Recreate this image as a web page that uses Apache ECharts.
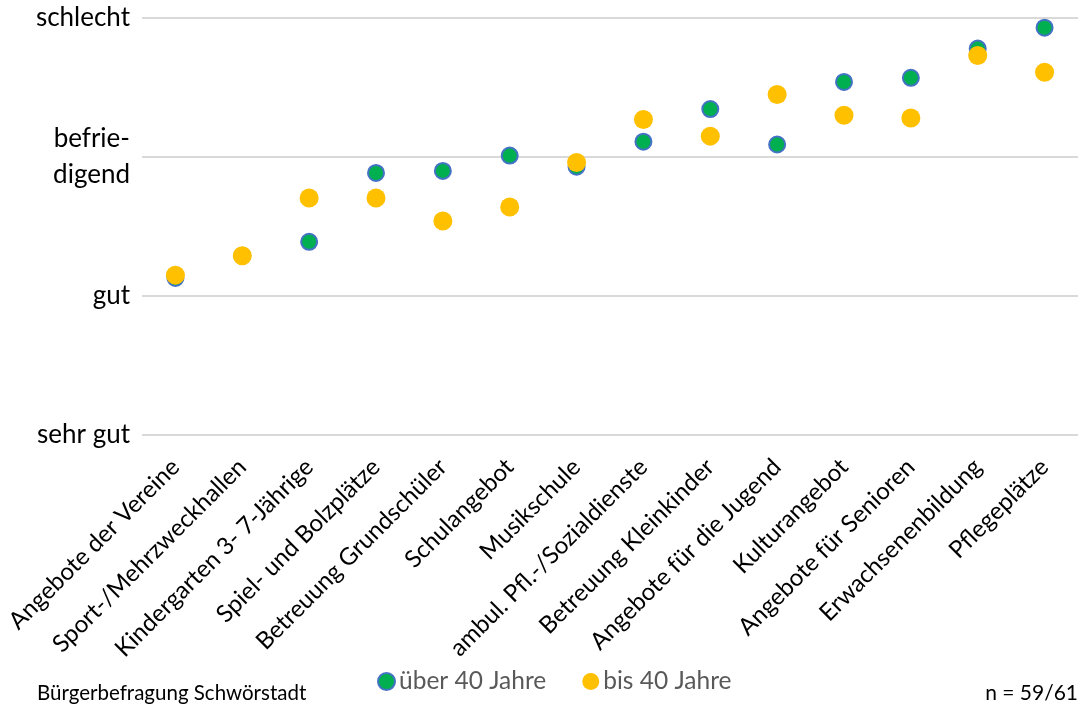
<!DOCTYPE html>
<html><head><meta charset="utf-8">
<script src="https://cdn.jsdelivr.net/npm/echarts@6/dist/echarts.min.js"></script>
<style>html,body{margin:0;padding:0;background:#fff}#c{width:1087px;height:706px}</style>
</head><body><div id="c"></div>
<script>
const categories = ["Angebote der Vereine","Sport-/Mehrzweckhallen","Kindergarten 3- 7-Jährige","Spiel- und Bolzplätze","Betreuung Grundschüler","Schulangebot","Musikschule","ambul. Pfl.-/Sozialdienste","Betreuung Kleinkinder","Angebote für die Jugend","Kulturangebot","Angebote für Senioren","Erwachsenenbildung","Pflegeplätze"];
const ueber40 = [2.13,2.29,2.39,2.885,2.90,3.01,2.93,3.11,3.345,3.09,3.54,3.57,3.78,3.93];
const bis40 = [2.15,2.29,2.705,2.705,2.54,2.64,2.96,3.27,3.15,3.45,3.30,3.28,3.73,3.61];
const yLabels = {1:"sehr gut",2:"gut",3:"befrie-\ndigend",4:"schlecht"};
const seriesNames = ["über 40 Jahre","bis 40 Jahre"];
const chart = echarts.init(document.getElementById('c'));
chart.setOption({
  animation:false,
  textStyle:{fontFamily:"Lato"},
  grid:{left:142,right:9,top:18,bottom:271},
  legend:{bottom:7,left:372,itemWidth:17,itemHeight:17,itemGap:36,
    textStyle:{fontSize:24.5,color:'#595959',fontFamily:'Lato',padding:[0,0,0,-1]},
    data:[{name:seriesNames[0],icon:'circle'},{name:seriesNames[1],icon:'circle'}]},
  graphic:[
    {type:'text',left:37,bottom:2,style:{text:'Bürgerbefragung Schwörstadt',fontSize:20.5,fill:'#000',fontFamily:'Lato'}},
    {type:'text',right:9,bottom:2,style:{text:'n = 59/61',fontSize:21,fill:'#000',fontFamily:'Lato'}}
  ],
  xAxis:{type:'category',data:categories,boundaryGap:true,
    axisLine:{show:false},axisTick:{show:false},
    axisLabel:{rotate:45,interval:0,fontSize:24,color:'#000',margin:28,fontFamily:'Lato'}},
  yAxis:{type:'value',min:1,max:4,interval:1,
    axisLine:{show:false},axisTick:{show:false},
    splitLine:{lineStyle:{color:'#d9d9d9',width:2}},
    axisLabel:{fontSize:26,color:'#000',margin:12,lineHeight:36,fontFamily:'Lato',
      formatter:v=>yLabels[v]||''}},
  series:[
    {name:seriesNames[0],type:'scatter',data:ueber40,symbolSize:16,
      itemStyle:{color:'#00B050',borderColor:'#4472C4',borderWidth:2,opacity:1}},
    {name:seriesNames[1],type:'scatter',data:bis40,symbolSize:19,
      itemStyle:{color:'#FFC000',opacity:1}}
  ]
});
</script></body></html>
